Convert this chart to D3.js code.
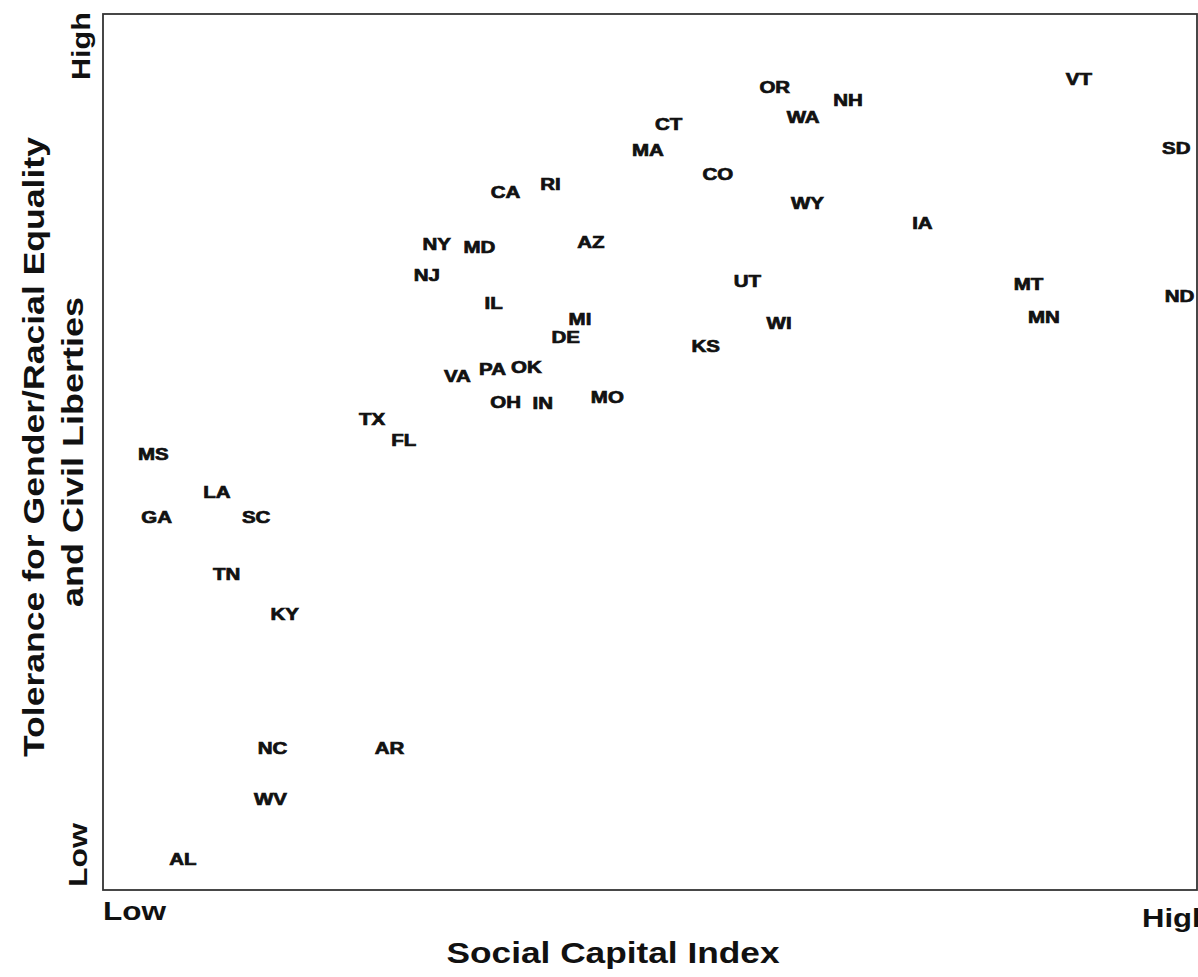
<!DOCTYPE html>
<html>
<head>
<meta charset="utf-8">
<script src="https://cdn.jsdelivr.net/npm/d3@7"></script>
<style>
  html, body { margin: 0; padding: 0; background: #fff; }
  svg { display: block; }
</style>
</head>
<body>
<div id="chart"></div>
<script>
// State labels (0 = low, 100 = high on both axes).
const states = [
  'VT', 'OR', 'NH', 'WA', 'CT', 'SD', 'MA', 'CO', 'RI', 'CA', 'WY', 'IA', 'AZ', 'NY', 'MD',
  'NJ', 'UT', 'MT', 'ND', 'IL', 'MN', 'MI', 'WI', 'DE', 'KS', 'PA', 'OK', 'VA', 'OH', 'IN',
  'MO', 'TX', 'FL', 'MS', 'LA', 'GA', 'SC', 'TN', 'KY', 'NC', 'AR', 'WV', 'AL'
];
const socialCapital = [
  89.2, 61.4, 68.1, 64.0, 51.7, 98.1, 49.8, 56.2, 40.9, 36.8, 64.4, 74.9, 44.6, 30.5, 34.4,
  29.6, 58.9, 84.6, 98.4, 35.7, 86.0, 43.6, 61.8, 42.3, 55.1, 35.6, 38.7, 32.4, 36.8, 40.2,
  46.1, 24.6, 27.5, 4.6, 10.4, 4.9, 14.0, 11.3, 16.6, 15.5, 26.2, 15.3, 7.3
];
const tolerance = [
  92.5, 91.6, 90.2, 88.2, 87.4, 84.7, 84.5, 81.7, 80.6, 79.7, 78.4, 76.1, 73.9, 73.7, 73.4,
  70.2, 69.5, 69.1, 67.8, 67.0, 65.4, 65.2, 64.7, 63.1, 62.1, 59.4, 59.7, 58.7, 55.7, 55.6,
  56.2, 53.7, 51.4, 49.8, 45.4, 42.6, 42.6, 36.1, 31.5, 16.2, 16.2, 10.4, 3.5
];
const xEnds = ['Low', 'High'];
const yEnds = ['Low', 'High'];

const INK = '#111';
const FONT = '"Liberation Sans", Arial, Helvetica, sans-serif';

const width = 1198;
const height = 977;
const frame = { left: 103, right: 1197, top: 14, bottom: 890 };

const svg = d3.select('#chart').append('svg').attr('width', width).attr('height', height);

const x = d3.scaleLinear().domain([0, 100]).range([frame.left, frame.right]);
const y = d3.scaleLinear().domain([0, 100]).range([frame.bottom, frame.top]);

// frame
svg.append('rect')
  .attr('x', x(0)).attr('y', y(100))
  .attr('width', x(100) - x(0)).attr('height', y(0) - y(100))
  .attr('fill', 'none').attr('stroke', '#333').attr('stroke-width', 1.8);

// state labels (heavy face, so thicken the glyphs a little)
const data = states.map((s, i) => ({ s, x: socialCapital[i], y: tolerance[i] }));
svg.selectAll('text.state')
  .data(data)
  .enter()
  .append('text')
  .attr('class', 'state')
  .attr('transform', (d) => `translate(${x(d.x)},${y(d.y)}) scale(1.28,1)`)
  .attr('dy', '0.36em')
  .attr('text-anchor', 'middle')
  .attr('fill', INK)
  .attr('stroke', INK)
  .attr('stroke-width', 0.7)
  .style('font-family', FONT)
  .style('font-weight', 'bold')
  .style('font-size', '16px')
  .text((d) => d.s);

function label(tx, ty, rot, size, txt, len) {
  const t = svg.append('text')
    .attr('transform', `translate(${tx},${ty}) rotate(${rot})`)
    .attr('fill', INK)
    .style('font-family', FONT)
    .style('font-weight', 'bold')
    .style('font-size', size + 'px')
    .text(txt);
  if (len) t.attr('textLength', len).attr('lengthAdjust', 'spacingAndGlyphs');
  return t;
}

// axis end labels ("High" runs off the right edge, as in the scan)
label(x(0), 920, 0, 26, xEnds[0], 63);
label(1142, 927, 0, 26, xEnds[1], 69);
label(87, y(0) - 3, -90, 26, yEnds[0], 64);
label(90, 80, -90, 26, yEnds[1], 68);

// axis titles
label(613, 963, 0, 30, 'Social Capital Index', 333).attr('text-anchor', 'middle');
label(44, 447, -90, 30, 'Tolerance for Gender/Racial Equality', 620).attr('text-anchor', 'middle');
label(83, 452, -90, 30, 'and Civil Liberties', 310).attr('text-anchor', 'middle');
</script>
</body>
</html>
